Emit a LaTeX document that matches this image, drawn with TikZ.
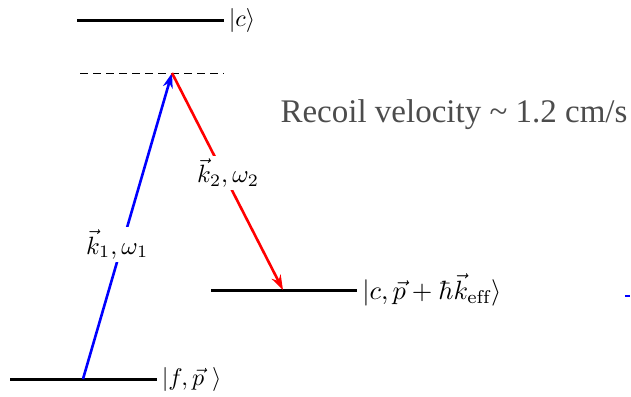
\documentclass[tikz,border=0pt]{standalone}
\usepackage{amsmath,amssymb}
\usepackage{fontspec}
\newfontfamily\recoilfont{Liberation Serif}
\usetikzlibrary{arrows.meta}

\tikzset{
  level/.style={line width=3pt},
  beam/.style={line width=2.6pt, -{Stealth[length=15pt,width=10pt]}},
  ket/.style={anchor=west, inner sep=0.5pt, scale=2.4, transform shape},
  beamlabel/.style={fill=white, inner sep=1pt, scale=2.5, transform shape}
}

\begin{document}
\begin{tikzpicture}[x=1pt, y=-1pt]
    \useasboundingbox (0,0) rectangle (631,396);
    % energy levels
    \draw[level] (77,21) -- (224,21) node[ket] (c) {$|c\rangle$};
    \draw[dashed, line width=1pt, dash pattern=on 8pt off 5pt] (80,73) -- (224,73);
    \coordinate (virt) at (172,73);
    \draw[level] (211,290) -- (357,290) node[ket, scale=1.1] (cp) {$|c,\vec{p}+\hbar\vec{k}_{\mathrm{eff}}\rangle$};
    \draw[level] (10,379) -- (157,379) node[ket] (fp) {$|f,\vec{p}\ \rangle$};
    \coordinate (fstart) at (83,379);
    \coordinate (cend) at (283,290);
    % Raman beams
    \draw[beam, blue] (fstart) -- node[beamlabel, pos=0.44, xshift=-2pt, text=black] (k1) {$\vec{k}_1,\omega_1$} (virt);
    \draw[beam, red] (virt) -- node[beamlabel, pos=0.46, xshift=2pt, text=black] (k2) {$\vec{k}_2,\omega_2$} (cend);
    \node[font=\recoilfont\fontsize{33}{36}\selectfont, text=black!70] (recoil) at (454,115) {Recoil velocity \textasciitilde{} 1.2 cm/s};
    \draw[blue, line width=2pt] (625,296) -- (630,296);
\end{tikzpicture}
\end{document}
